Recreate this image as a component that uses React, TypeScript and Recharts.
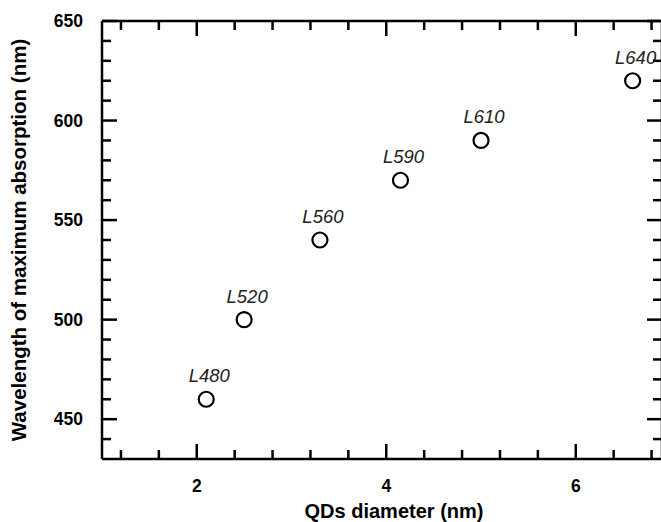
import React from "react"
import { ScatterChart, Scatter, XAxis, YAxis } from "recharts"

const diameters = [2.1, 2.5, 3.3, 4.15, 5.0, 6.6]
const wavelengths = [460, 500, 540, 570, 590, 620]
const sampleNames = ["L480", "L520", "L560", "L590", "L610", "L640"]

const xTicks = [1.2, 1.6, 2, 2.4, 2.8, 3.2, 3.6, 4, 4.4, 4.8, 5.2, 5.6, 6, 6.4, 6.8]
const xLabelled = [2, 4, 6]
const yTicks = [440, 450, 460, 470, 480, 490, 500, 510, 520, 530, 540, 550, 560, 570, 580, 590, 600, 610, 620, 630, 640, 650]
const yLabelled = [450, 500, 550, 600, 650]

const data = diameters.map((d, i) => ({
  x: d,
  y: wavelengths[i],
  name: sampleNames[i],
}))

const FONT = "'Liberation Sans', Arial, sans-serif"
const MAJOR = 15
const MINOR = 9
const TICK_W = 2.5

const isMajorX = (v: number) => xLabelled.some((m) => Math.abs(m - v) < 1e-6)
const isMajorY = (v: number) => yLabelled.includes(v)

function BottomTick(props: any) {
  const { x, y, payload } = props
  const major = isMajorX(payload.value)
  return (
    <g>
      <line x1={x} x2={x} y1={y} y2={y - (major ? MAJOR : MINOR)} stroke="#000" strokeWidth={TICK_W} />
      {major && (
        <text x={x} y={y + 33} textAnchor="middle" fontFamily={FONT} fontWeight="bold" fontSize={17.5} fill="#000">
          {Math.round(payload.value)}
        </text>
      )}
    </g>
  )
}

function TopTick(props: any) {
  const { x, y, payload } = props
  const major = isMajorX(payload.value)
  return <line x1={x} x2={x} y1={y} y2={y + (major ? MAJOR : MINOR)} stroke="#000" strokeWidth={TICK_W} />
}

function LeftTick(props: any) {
  const { x, y, payload } = props
  const major = isMajorY(payload.value)
  return (
    <g>
      <line x1={x} x2={x + (major ? MAJOR : MINOR)} y1={y} y2={y} stroke="#000" strokeWidth={TICK_W} />
      {major && (
        <text x={x - 19} y={y + 6} textAnchor="end" fontFamily={FONT} fontWeight="bold" fontSize={17.5} fill="#000">
          {payload.value}
        </text>
      )}
    </g>
  )
}

function RightTick(props: any) {
  const { x, y, payload } = props
  const major = isMajorY(payload.value)
  return <line x1={x} x2={x - (major ? MAJOR : MINOR)} y1={y} y2={y} stroke="#000" strokeWidth={TICK_W} />
}

function Marker(props: any) {
  const { cx, cy, payload } = props
  return (
    <g>
      <circle cx={cx} cy={cy} r={7.5} fill="#fff" stroke="#000" strokeWidth={2.2} />
      <text x={cx + 3} y={cy - 17} textAnchor="middle" fontFamily={FONT} fontStyle="italic" fontSize={18.5} fill="#222">
        {payload.name}
      </text>
    </g>
  )
}

const axisLine = { stroke: "#000", strokeWidth: 2.5 }

export default function App() {
  return (
    <div style={{ position: "absolute", left: 0, top: 0, width: 661, height: 522, background: "#fff", overflow: "hidden" }}>
      <ScatterChart width={661} height={522} margin={{ top: 20, right: -2, bottom: 0, left: 0 }}>
        <XAxis
          xAxisId="b"
          type="number"
          dataKey="x"
          domain={[1, 6.91]}
          ticks={xTicks}
          interval={0}
          height={63}
          tickSize={0}
          tickMargin={0}
          tickLine={false}
          axisLine={axisLine}
          tick={<BottomTick />}
          allowDataOverflow
          label={{
            value: "QDs diameter (nm)",
            position: "insideBottom",
            offset: 4,
            dx: 12,
            style: { fontFamily: FONT, fontWeight: "bold", fontSize: 20, fill: "#000" },
          }}
        />
        <XAxis
          xAxisId="t"
          orientation="top"
          type="number"
          dataKey="x"
          domain={[1, 6.91]}
          ticks={xTicks}
          interval={0}
          height={1}
          tickSize={0}
          tickMargin={0}
          tickLine={false}
          axisLine={axisLine}
          tick={<TopTick />}
          allowDataOverflow
        />
        <YAxis
          yAxisId="l"
          type="number"
          dataKey="y"
          domain={[430, 650]}
          ticks={yTicks}
          interval={0}
          width={102}
          tickSize={0}
          tickMargin={0}
          tickLine={false}
          axisLine={axisLine}
          tick={<LeftTick />}
          allowDataOverflow
          label={{
            value: "Wavelength of maximum absorption (nm)",
            angle: -90,
            position: "insideLeft",
            offset: 19,
            style: { textAnchor: "middle", fontFamily: FONT, fontWeight: "bold", fontSize: 20.5, fill: "#000" },
          }}
        />
        <YAxis
          yAxisId="r"
          orientation="right"
          type="number"
          dataKey="y"
          domain={[430, 650]}
          ticks={yTicks}
          interval={0}
          width={1}
          tickSize={0}
          tickMargin={0}
          tickLine={false}
          axisLine={axisLine}
          tick={<RightTick />}
          allowDataOverflow
        />
        <Scatter
          xAxisId="b"
          yAxisId="l"
          data={data}
          shape={<Marker />}
          isAnimationActive={false}
        />
        <Scatter
          xAxisId="t"
          yAxisId="r"
          data={data}
          shape={() => <g />}
          legendType="none"
          isAnimationActive={false}
        />
      </ScatterChart>
    </div>
  )
}
